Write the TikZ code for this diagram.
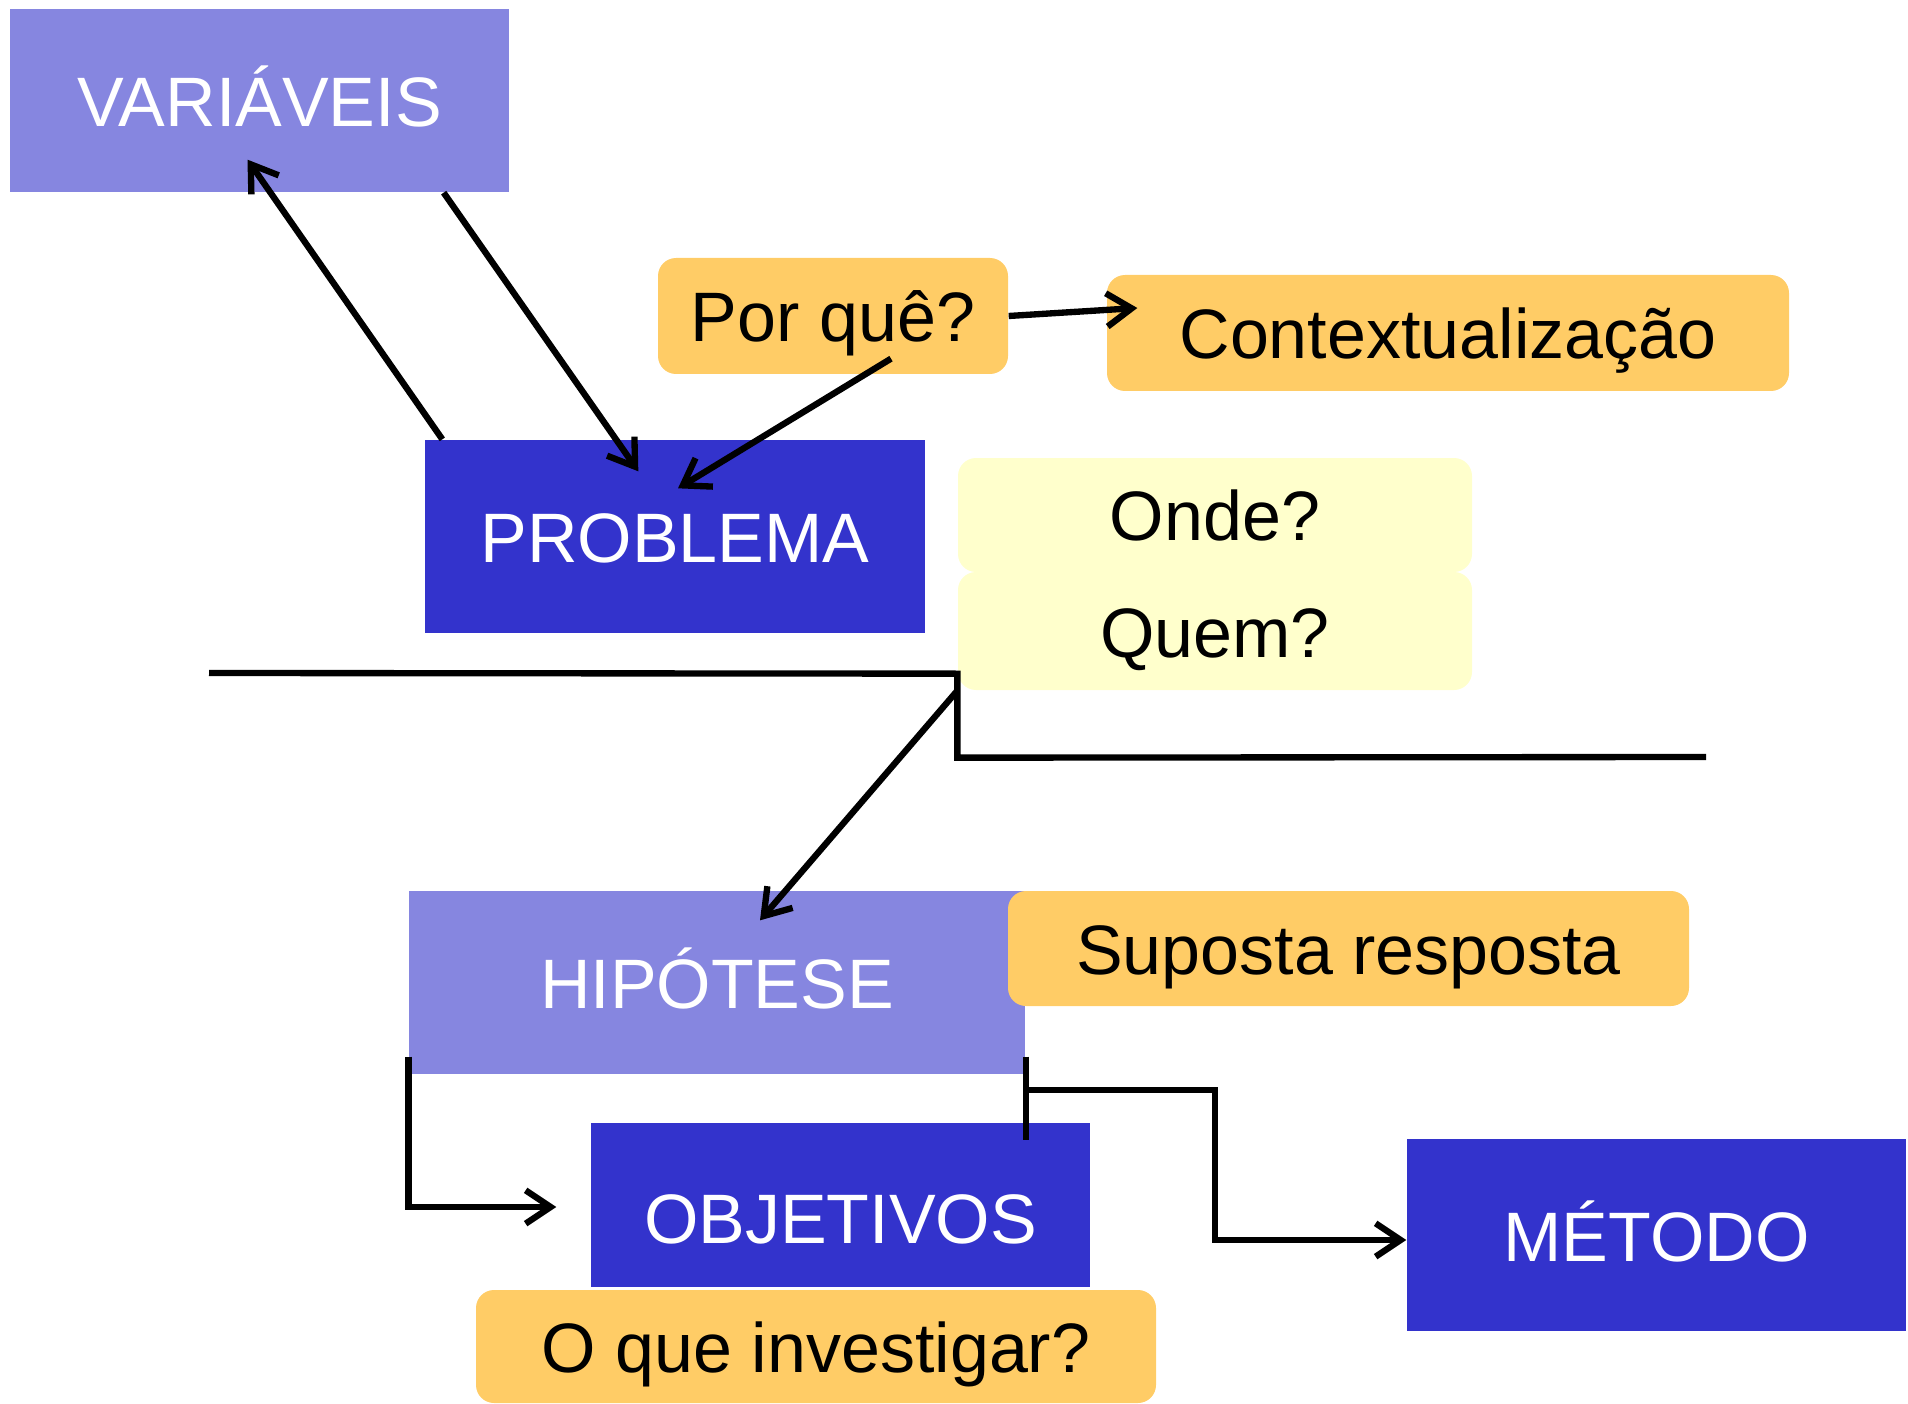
\documentclass[tikz,border=0pt]{standalone}
\usepackage{fontspec}
\setmainfont{Liberation Sans}
\usetikzlibrary{arrows.meta,calc}
\definecolor{lilas}{RGB}{134,134,224}
\definecolor{azul}{RGB}{51,51,204}
\definecolor{laranja}{RGB}{255,204,102}
\definecolor{creme}{RGB}{255,255,204}
\tikzset{
  caixa/.style={inner sep=0pt, text height=15.6pt, text depth=0pt, font=\fontsize{21}{25}\selectfont},
  titulo/.style={caixa, text=white},
  balao/.style={caixa, rounded corners=5.4pt},
  seta/.style={line width=1.9pt, -{Straight Barb[length=7.5pt,width=10pt]}},
  linha/.style={line width=1.9pt}
}
\begin{document}
\begin{tikzpicture}[x=0.3pt,y=-0.3pt]
\useasboundingbox (0,0) rectangle (1908,1404);
% caixas
\node[titulo, fill=lilas, minimum width=149.7pt, minimum height=54.9pt] (var) at (259.5,100.5) {VARIÁVEIS};
\node[titulo, fill=azul, minimum width=150pt, minimum height=57.9pt] (prob) at (675,536.5) {PROBLEMA};
\node[balao, fill=laranja, minimum width=105pt, minimum height=34.8pt] (porque) at (833,316) {Por quê?};
\node[balao, fill=laranja, minimum width=204.6pt, minimum height=34.8pt] (contexto) at (1448,333) {Contextualização};
\node[balao, fill=creme, minimum width=154.2pt, minimum height=34.2pt] (onde) at (1215,515) {Onde?};
\node[balao, fill=creme, minimum width=154.2pt, minimum height=35.4pt] (quem) at (1215,631) {Quem?};
\node[titulo, fill=lilas, minimum width=184.8pt, minimum height=54.9pt] (hipo) at (717,982.5) {HIPÓTESE};
\node[balao, fill=laranja, minimum width=204.3pt, minimum height=34.5pt] (suposta) at (1348.5,948.5) {Suposta resposta};
\node[titulo, fill=azul, minimum width=149.7pt, minimum height=49.2pt, text height=23pt] (obj) at (840.5,1205) {OBJETIVOS};
\node[balao, fill=laranja, minimum width=204pt, minimum height=33.9pt] (oque) at (816,1346.5) {O que investigar?};
\node[titulo, fill=azul, minimum width=149.7pt, minimum height=57.6pt] (metodo) at (1656.5,1235) {MÉTODO};
% ligacoes
\draw[seta] ($(prob.north west)+(18,0)$) -- ($(var.south)+(-12,-33)$);
\draw[seta] ($(var.south east)+(-66,0)$) -- ($(prob.north west)+(214,32)$);
\draw[seta] (porque.east) -- ($(contexto.west)+(31,-25)$);
\draw[seta] ($(porque.south)+(58,-16)$) -- ($(prob.north)+(3,49)$);
\coordinate (corte) at ($(quem.south west)+(0,-17)$);
\draw[linha] (209,673) -- (corte) -- ++(0,84) -- (1706,757);
\draw[seta] (quem.south west) -- ($(hipo.north)+(43,30)$);
\draw[seta] ($(hipo.south west)+(0,-18)$) |- ($(obj.west)+(-34,2)$);
\draw[linha] ($(hipo.south east)+(0,-18)$) -- ($(hipo.south east)+(0,65)$);
\draw[seta] ($(hipo.south east)+(0,15)$) -- ++(189,0) |- ($(metodo.west)+(0,5)$);
\end{tikzpicture}
\end{document}
